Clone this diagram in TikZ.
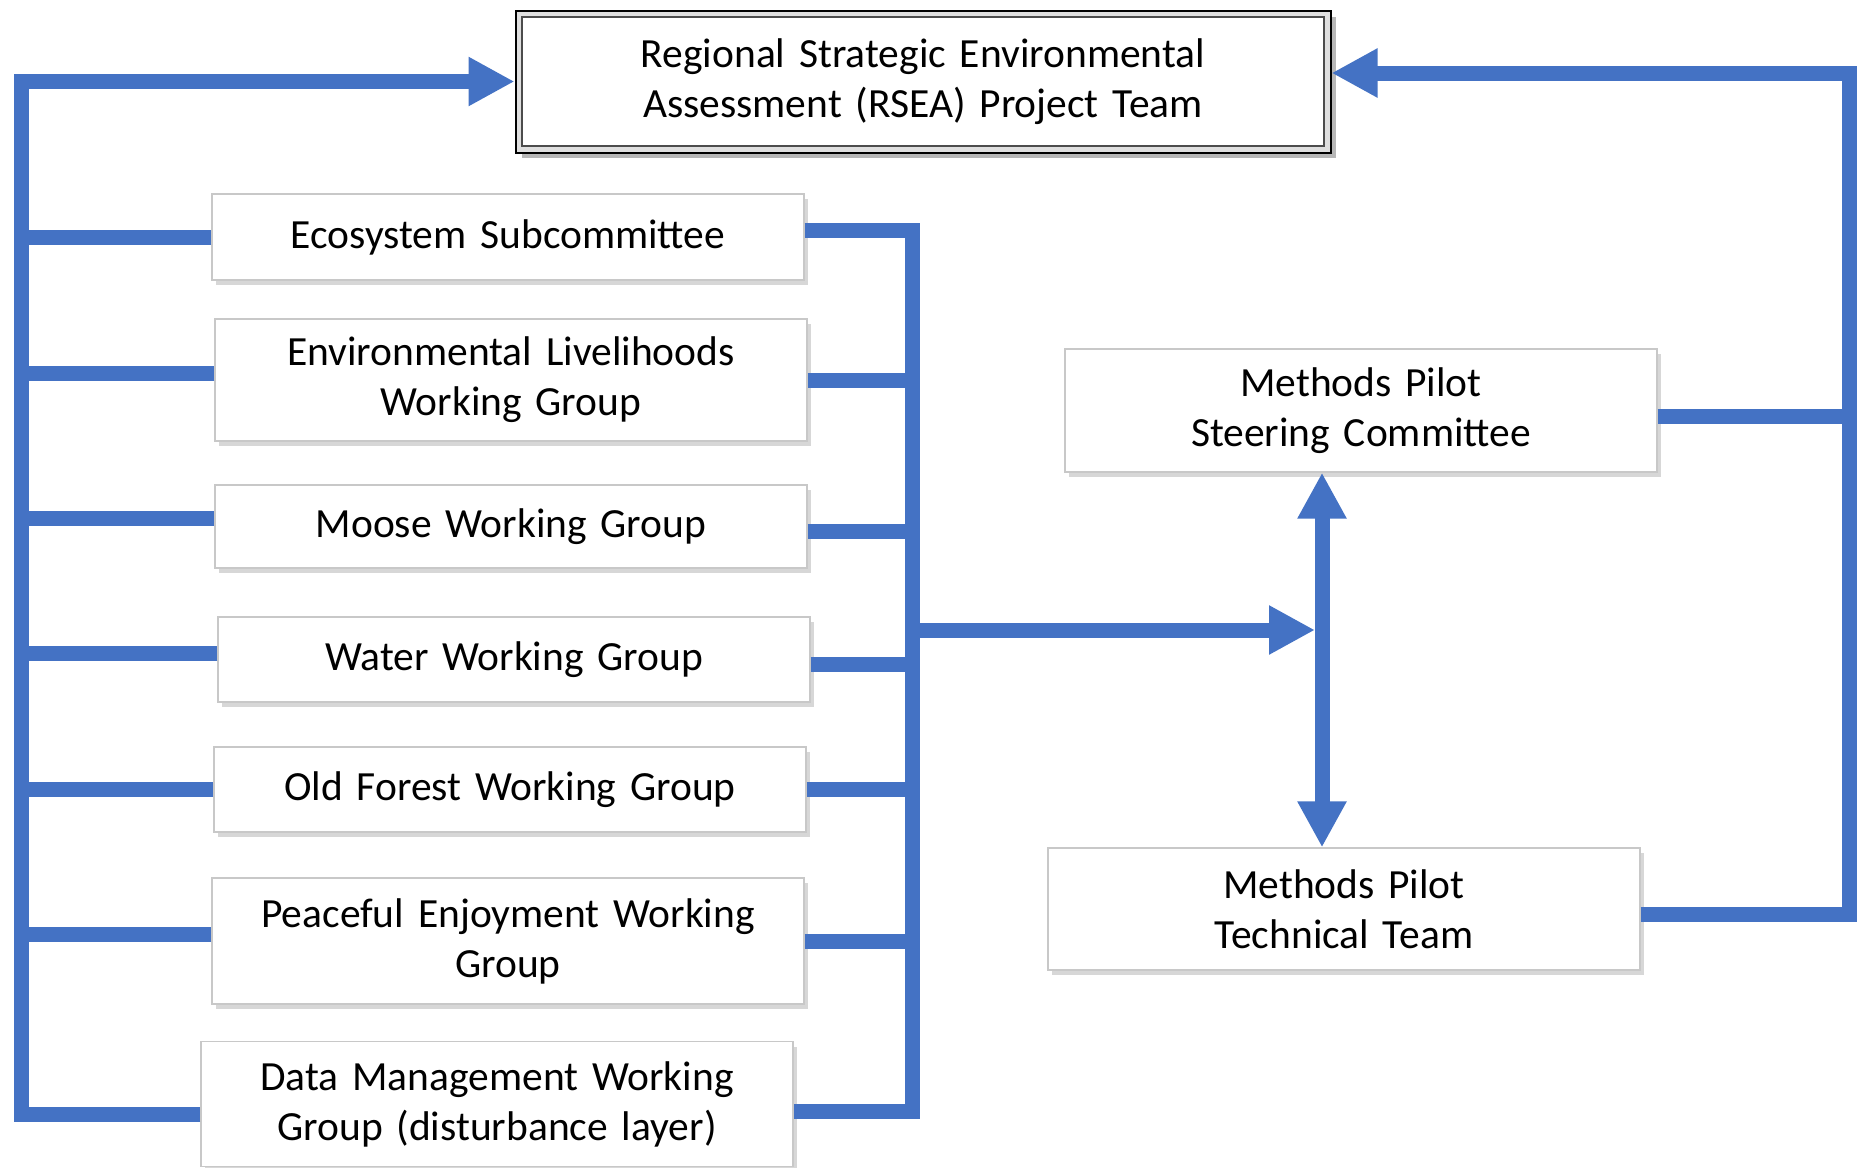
\documentclass[tikz,border=0pt]{standalone}
\usepackage{fontspec}
\setmainfont{Carlito}[WordSpace=0.8]
\usetikzlibrary{arrows.meta,shadows,calc}
\definecolor{lineblue}{HTML}{4472C4}
\definecolor{boxgray}{HTML}{C8C8C8}
\begin{document}
\begin{tikzpicture}[x=1pt,y=-1pt,
  wg/.style={draw=boxgray, line width=1.2pt, fill=white, minimum width=592pt,
    text width=580pt, align=center, inner sep=0pt,
    font=\fontsize{41.5}{50}\selectfont,
    drop shadow={shadow xshift=4pt, shadow yshift=-5pt, opacity=0.22, fill=black!70}},
  link/.style={draw=lineblue, line width=15pt, line join=miter},
  arr/.style={link, -{Triangle[length=46pt,width=46pt]}},
  darr/.style={link, {Triangle[length=46pt,width=46pt]}-{Triangle[length=46pt,width=46pt]}}
]
\useasboundingbox (0,0) rectangle (1868,1167);
\clip (0,0) rectangle (1868,1167);
\fill[white] (0,0) rectangle (1868,1167);

% top box
\node[draw=black, line width=3pt, fill=white, minimum width=814pt, minimum height=141pt,
  text width=790pt, align=center, inner sep=0pt, font=\fontsize{41.5}{50}\selectfont,
  drop shadow={shadow xshift=6pt, shadow yshift=-6pt, opacity=0.35, fill=black!80}]
  (top) at (923,81.5) {Regional Strategic Environmental\\Assessment (RSEA) Project Team};
\draw[gray!25, line width=5pt] ([shift={(4.5pt,-4.5pt)}]top.north west) rectangle ([shift={(-4.5pt,4.5pt)}]top.south east);
\draw[gray!60!black, line width=1.2pt] ([shift={(7.5pt,-7.5pt)}]top.north west) rectangle ([shift={(-7.5pt,7.5pt)}]top.south east);

% working groups
\node[wg, minimum height=86pt]  (eco)   at (508,237)   {Ecosystem Subcommittee};
\node[wg, minimum height=122pt] (env)   at (511,380)   {Environmental Livelihoods\\Working Group};
\node[wg, minimum height=83pt]  (moose) at (511,526.5) {Moose Working Group};
\node[wg, minimum height=85pt]  (water) at (514,659.5) {Water Working Group};
\node[wg, minimum height=85pt]  (old)   at (510,789.5) {Old Forest Working Group};
\node[wg, minimum height=126pt] (peace) at (508,941)   {Peaceful Enjoyment Working\\Group};
\node[wg, minimum height=125pt] (data)  at (497,1104)  {Data Management Working\\Group (disturbance layer)};

% methods pilot
\node[wg, minimum height=123pt] (steer) at (1361,410.5) {Methods Pilot\\Steering Committee};
\node[wg, minimum height=122pt] (tech)  at (1344,909)   {Methods Pilot\\Technical Team};

% bus coordinates
\coordinate (LB) at (21,0);
\coordinate (RB) at (912,0);
\coordinate (VX) at (1322,0);
\coordinate (RR) at (1849,0);
\coordinate (J)  at (1315,630);

% left bus to top box
\draw[arr] ([yshift=-10pt]data.west) -- ([yshift=-10pt]data.west -| LB) -- (LB |- top.west) -- (top.west);
\draw[link] (eco.west) -- (eco.west -| LB);
\draw[link] ([yshift=7pt]env.west) -- ([yshift=7pt]env.west -| LB);
\draw[link] ([yshift=8pt]moose.west) -- ([yshift=8pt]moose.west -| LB);
\draw[link] ([yshift=6pt]water.west) -- ([yshift=6pt]water.west -| LB);
\draw[link] (old.west) -- (old.west -| LB);
\draw[link] ([yshift=7pt]peace.west) -- ([yshift=7pt]peace.west -| LB);

% right bus of working groups
\draw[link] ([yshift=7pt]eco.east) -- ([yshift=7pt]eco.east -| RB) -- ([yshift=-7pt]data.east -| RB) -- ([yshift=-7pt]data.east);
\draw[link] (env.east) -- (env.east -| RB);
\draw[link] ([yshift=-4.5pt]moose.east) -- ([yshift=-4.5pt]moose.east -| RB);
\draw[link] ([yshift=-4.5pt]water.east) -- ([yshift=-4.5pt]water.east -| RB);
\draw[link] (old.east) -- (old.east -| RB);
\draw[link] (peace.east) -- (peace.east -| RB);

% to methods pilot
\draw[arr] (RB |- J) -- (J);
\draw[darr] (VX |- tech.north) -- (VX |- steer.south);

% right bus to top box
\draw[arr] ([yshift=-5pt]tech.east) -- ([yshift=-5pt]tech.east -| RR) -- (RR |- 0,73) -- (top.east |- 0,73);
\draw[link] ([yshift=-5.5pt]steer.east) -- ([yshift=-5.5pt]steer.east -| RR);
\end{tikzpicture}
\end{document}
